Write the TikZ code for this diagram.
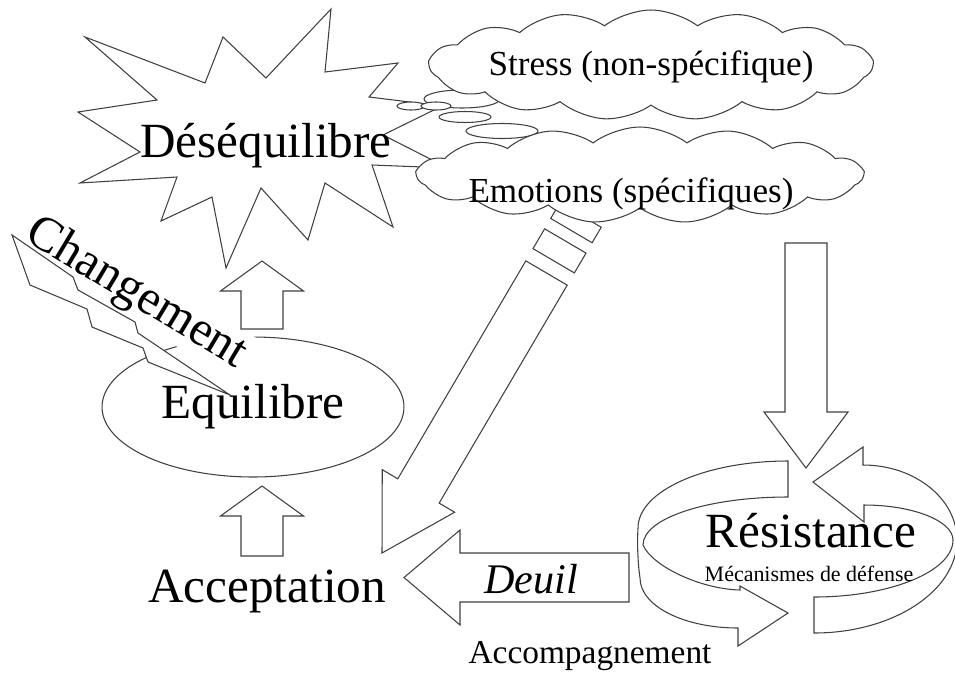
\documentclass[tikz,border=0pt]{standalone}
\usepackage{fontspec}
\setmainfont{Liberation Serif}
\usetikzlibrary{calc, shapes.geometric, shapes.symbols}

% block arrow: tail, tip, shaft half width, head half width, head length
\newcommand{\blockarrow}[5]{%
  \draw[outl] ($(#1)!#3!90:(#2)$)
    -- ($(#2)!#5!(#1)!#3!-90:(#1)$)
    -- ($(#2)!#5!(#1)!#4!-90:(#1)$)
    -- (#2)
    -- ($(#2)!#5!(#1)!#4!90:(#1)$)
    -- ($(#2)!#5!(#1)!#3!90:(#1)$)
    -- ($(#1)!#3!-90:(#2)$) -- cycle;}
% band behind the tail: tail, tip, near, far, half width
\newcommand{\arrowband}[5]{%
  \draw[outl] ($(#2)!#3!(#1)!#5!90:(#2)$) -- ($(#2)!#4!(#1)!#5!90:(#2)$)
    -- ($(#2)!#4!(#1)!#5!-90:(#2)$) -- ($(#2)!#3!(#1)!#5!-90:(#2)$) -- cycle;}

\begin{document}
\begin{tikzpicture}[
  x=0.02cm, y=-0.02cm,
  outl/.style={draw=black!75, line width=0.6pt, fill=white},
  big/.style={font=\fontsize{28}{32}\selectfont},
  mid/.style={font=\fontsize{20}{24}\selectfont},
  small/.style={font=\fontsize{12.5}{14}\selectfont},
  cloudy/.style={outl, cloud, cloud puffs=15, cloud puff arc=75,
                 cloud ignores aspect, inner sep=0pt},
  bub/.style={outl, ellipse, inner sep=0pt}
]
\useasboundingbox (0,0) rectangle (955,673);

% ---------------------------------------------- the burst
\draw[outl] (85,37) -- (205,83) -- (223,37) -- (266,78) -- (331,9) -- (325,72)
  -- (398,63) -- (369,97) -- (442,106) -- (383,135) -- (448,168) -- (372,165)
  -- (393,227) -- (325,183) -- (308,240) -- (261,188) -- (226,268) -- (212,197)
  -- (161,221) -- (177,177) -- (80,183) -- (140,152) -- (78,112) -- (157,100)
  -- cycle;
\node[big, anchor=base] (desequ) at (266,157) {Déséquilibre};

% ---------------------------------------------- emotions -> acceptation
\coordinate (diagtail) at (546.5,273);
\coordinate (diagtip)  at (382,553);
\blockarrow{diagtail}{diagtip}{0.48cm}{0.84cm}{1.44cm}
\arrowband{diagtail}{diagtip}{6.78cm}{7.24cm}{0.48cm}
\arrowband{diagtail}{diagtip}{7.48cm}{7.84cm}{0.48cm}

% ---------------------------------------------- thought bubbles and clouds
\node[bub, minimum width=1.52cm, minimum height=0.36cm] (bub3) at (462,99) {};
\node[bub, minimum width=0.56cm, minimum height=0.16cm] (bub1) at (411,106) {};
\node[bub, minimum width=0.60cm, minimum height=0.16cm] (bub2) at (436,106) {};
\node[bub, minimum width=1.04cm, minimum height=0.22cm] (bub4) at (465,117) {};
\node[bub, minimum width=1.44cm, minimum height=0.30cm] (bub5) at (502,131) {};

\node[cloudy, minimum width=8.86cm, minimum height=2.2cm] (stresscl) at (651,65) {};
\node[mid, anchor=base] (stress) at (651,75) {Stress (non-spécifique)};
\node[cloudy, minimum width=8.92cm, minimum height=1.92cm] (emotcl) at (640,175) {};
\node[mid, anchor=base] (emot) at (631,202) {Emotions (spécifiques)};

% ---------------------------------------------- left column
\node[outl, ellipse, big, minimum width=6.04cm, minimum height=2.8cm, inner sep=0pt]
  (equil) at (253,407) {Equilibre};
\node[big, rotate=-31, anchor=base, fill=white, inner sep=1pt] (chgt) at (130,304) {Changement};
\draw[outl] (12,235) -- (73,277) -- (78,290) -- (135,322) -- (138,333) -- (230,395)
  -- (148,362) -- (143,348) -- (92,327) -- (87,309) -- (30,285) -- cycle;

\coordinate (up1s) at (262,329);
\coordinate (up1e) at (262,261);
\blockarrow{up1s}{up1e}{0.42cm}{0.83cm}{0.6cm}
\coordinate (up2s) at (262,556);
\coordinate (up2e) at (262,486);
\blockarrow{up2s}{up2e}{0.42cm}{0.83cm}{0.6cm}
\node[big, anchor=base] (accept) at (267,602) {Acceptation};

% ---------------------------------------------- deuil
\coordinate (deuils) at (629,577.5);
\coordinate (deuile) at (404,577.5);
\blockarrow{deuils}{deuile}{0.49cm}{0.95cm}{1.12cm}
\node[font=\itshape\fontsize{24}{28}\selectfont, anchor=base] (deuil) at (531,593) {Deuil};

% ---------------------------------------------- emotions -> resistance
\coordinate (downs) at (806,243);
\coordinate (downe) at (806,468);
\blockarrow{downs}{downe}{0.42cm}{0.84cm}{1.12cm}

% ---------------------------------------------- resistance ring
\draw[outl] (788,461) .. controls (705,461) and (638,491) .. (638,528)
  .. controls (637,545) and (638,565) .. (640,578)
  .. controls (640,606) and (684,628) .. (738,628)
  -- (738,646) -- (788,613) -- (740,586) -- (740,590)
  .. controls (700,589) and (652,566) .. (643,545)
  .. controls (643,518) and (708,497) .. (788,497) -- cycle;
\draw[outl] (813,482) -- (863,447) -- (863,465)
  .. controls (915,465) and (957,499) .. (957,540)
  .. controls (957,591) and (893,633) .. (814,633)
  -- (814,597)
  .. controls (891,597) and (953,571) .. (953,540)
  .. controls (953,521) and (913,505) .. (864,505)
  -- (864,522) -- cycle;
\node[big, anchor=base] (resist) at (811,547) {Résistance};
\node[small, anchor=base] (meca) at (809,581) {Mécanismes de défense};

\node[font=\fontsize{19}{22}\selectfont, anchor=base] (accomp) at (590,663) {Accompagnement};

\end{tikzpicture}
\end{document}
